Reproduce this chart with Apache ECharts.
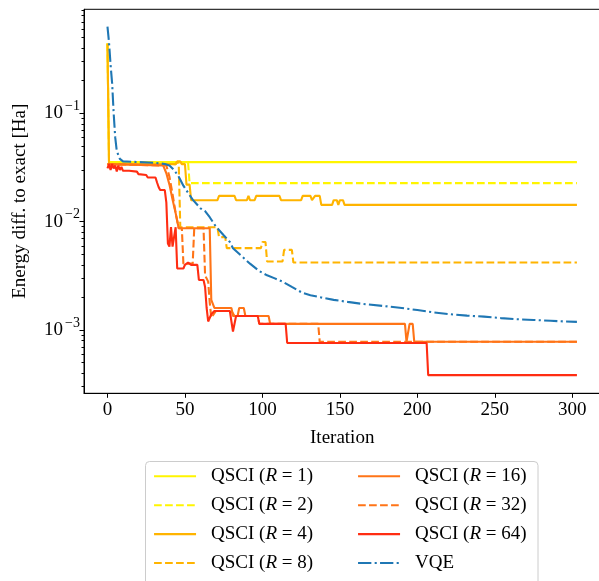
<!DOCTYPE html>
<html><head><meta charset="utf-8">
<script src="https://cdn.jsdelivr.net/npm/echarts@6/dist/echarts.min.js"></script>
<style>html,body{margin:0;padding:0;background:#fff}#c{width:599px;height:581px}</style>
</head><body><div id="c"></div>
<script>
// ---- data (iteration, energy difference [Ha]) ----
const xTicks = [0, 50, 100, 150, 200, 250, 300];
const yMajorTicks = [1e-3, 1e-2, 1e-1];
const xRange = [-15.15, 318.15];
const yRange = [2.61e-4, 0.912];

const names = ['QSCI (R=1)', 'QSCI (R=2)', 'QSCI (R=4)', 'QSCI (R=8)',
               'QSCI (R=16)', 'QSCI (R=32)', 'QSCI (R=64)', 'VQE'];

const qsciR1 = [[0,0.44],[1,0.0355],[303,0.0355]];
const qsciR2 = [[0,0.44],[1,0.0355],[52,0.0355],[53,0.0227],[303,0.0227]];
const qsciR4 = [[0,0.44],[1,0.034],[44,0.034],[45,0.036],[47,0.036],[48,0.034],[50,0.034],[51,0.022],[53,0.022],
  [54,0.0158],[71,0.0158],[72,0.0173],[82,0.0173],[83,0.0158],[90,0.0158],[91,0.0173],[92,0.0158],[95,0.0158],
  [96,0.0173],[111,0.0173],[112,0.0158],[125,0.0158],[126,0.0173],[131,0.0173],[132,0.0158],[133,0.0158],
  [134,0.0173],[137,0.0173],[138,0.0143],[145,0.0143],[146,0.0158],[148,0.0158],[149,0.0143],[150,0.0158],
  [152,0.0158],[153,0.0143],[303,0.0143]];
const qsciR8 = [[0,0.034],[44,0.034],[45,0.036],[46,0.034],[47,0.0089],[71,0.0089],[72,0.0072],[76,0.0072],
  [77,0.0057],[99,0.0057],[100,0.0065],[102,0.0065],[103,0.0043],[113,0.0043],[114,0.0055],[119,0.0055],
  [120,0.0042],[303,0.0042]];
const qsciR16 = [[0,0.034],[36,0.033],[37,0.032],[38,0.028],[40,0.022],[42,0.016],[44,0.012],[46,0.0087],
  [66,0.0087],[67,0.0019],[69,0.0016],[80,0.0016],[81,0.00135],[84,0.00135],[85,0.0016],[88,0.0016],
  [89,0.00135],[104,0.00135],[105,0.00114],[192,0.00114],[193,0.00078],[194,0.00078],[195,0.00114],
  [197,0.00114],[198,0.00078],[303,0.00078]];
const qsciR32 = [[0,0.034],[38,0.033],[40,0.026],[42,0.018],[44,0.012],[46,0.0087],[48,0.0087],[49,0.0041],
  [55,0.0041],[56,0.0087],[62,0.0087],[63,0.0032],[65,0.0028],[66,0.0018],[67,0.0013],[70,0.0015],[80,0.0015],
  [82,0.00135],[97,0.00135],[98,0.00114],[136,0.00114],[137,0.00078],[303,0.00078]];
const qsciR64 = [[0,0.031],[1,0.034],[2,0.030],[3,0.034],[4,0.031],[5,0.033],[6,0.029],[7,0.033],[8,0.030],
  [9,0.032],[10,0.0295],[14,0.0295],[15,0.029],[19,0.029],[20,0.0275],[25,0.027],[26,0.0256],[31,0.0256],
  [32,0.023],[33,0.0209],[34,0.0196],[37,0.0196],[38,0.015],[39,0.0063],[40,0.0059],[41,0.0089],[42,0.0059],
  [43,0.006],[44,0.0089],[45,0.0037],[49,0.0037],[50,0.0040],[52,0.0042],[54,0.0040],[58,0.0040],[59,0.0029],
  [62,0.0029],[63,0.0025],[64,0.0016],[65,0.0012],[66,0.0012],[67,0.0014],[69,0.0015],[79,0.0015],[80,0.0012],
  [81,0.00097],[82,0.00097],[83,0.00135],[97,0.00135],[98,0.00114],[115,0.00114],[116,0.00076],[206,0.00076],
  [207,0.000384],[303,0.000384]];
const vqe = [[0,0.63],[1,0.45],[2,0.28],[3,0.19],[4,0.1],[5,0.06],[6,0.045],[8,0.038],[10,0.036],[20,0.0355],
  [30,0.035],[37,0.0341],[40,0.033],[43,0.030],[46,0.026],[49,0.0215],[52,0.0185],[55,0.016],[60,0.0133],
  [63,0.0125],[66,0.011],[70,0.009],[75,0.0075],[79,0.0065],[81,0.0057],[86,0.0049],[92,0.0041],[98,0.0035],
  [103,0.0032],[108,0.0030],[113,0.0028],[119,0.0025],[126,0.0022],[131,0.0021],[138,0.002],[146,0.0019],
  [155,0.00182],[165,0.00174],[178,0.00167],[190,0.0016],[200,0.00153],[210,0.00146],[221,0.0014],
  [232,0.00136],[243,0.00133],[254,0.00129],[264,0.00126],[275,0.00124],[286,0.00122],[295,0.0012],
  [303,0.00119]];

// ---- styling ----
const FONT = "'Liberation Serif', 'DejaVu Serif', serif";
const YEL = '#fff500', AMB = '#ffb400', ORG = '#ff7417', RED = '#ff2d12', BLUE = '#1f77b4';
const LW = 2.1;
const DASH = [7.7, 3.3];
const DASHDOT = [13.3, 3.3, 2.1, 3.3];
const allData = [qsciR1, qsciR2, qsciR4, qsciR8, qsciR16, qsciR32, qsciR64, vqe];
const colors = [YEL, YEL, AMB, AMB, ORG, ORG, RED, BLUE];
const dashes = ['solid', DASH, 'solid', DASH, 'solid', DASH, 'solid', DASHDOT];

const minorTicks = [];
for (let k = -4; k <= -1; k++) for (let m = 2; m <= 9; m++) {
  const v = m * Math.pow(10, k);
  if (v > yRange[0] && v < yRange[1]) minorTicks.push(Math.log10(v));
}
const lyMin = Math.log10(yRange[0]), lyMax = Math.log10(yRange[1]);

const series = allData.map((d, i) => ({
  name: names[i], type: 'line', data: d, xAxisIndex: 0, yAxisIndex: 0,
  symbol: 'none', showSymbol: false, silent: true,
  lineStyle: { color: colors[i], width: LW, type: dashes[i] },
  itemStyle: { color: colors[i] }
}));

const legendText = {
  fontFamily: FONT, fontSize: 19, lineHeight: 20, color: '#000', padding: [0, 0, 0, 10],
  rich: { i: { fontFamily: FONT, fontSize: 19, lineHeight: 20, fontStyle: 'italic', color: '#000' } }
};
const legendFmt = n => n.replace('R=', '{i|R} = ');
const legendBase = {
  orient: 'vertical', top: 466.3, height: 150, padding: 0,
  itemWidth: 42, itemHeight: 20, itemGap: 8.9,
  textStyle: legendText, formatter: legendFmt, selectedMode: false,
  lineStyle: { width: LW, opacity: 1 },
  itemStyle: { opacity: 0, borderWidth: 0 }
};

const option = {
  animation: false,
  backgroundColor: '#fff',
  grid: { left: 84, top: 9.3, width: 516.4, height: 384, show: true, borderColor: '#000', borderWidth: 1,
          containLabel: false, outerBoundsMode: 'none' },
  xAxis: [{
    type: 'value', min: xRange[0], max: xRange[1], splitLine: { show: false },
    axisLine: { show: true, lineStyle: { color: '#000', width: 1 } },
    axisTick: { show: true, customValues: xTicks, length: 4.5, lineStyle: { color: '#000' } },
    axisLabel: { customValues: xTicks, fontFamily: FONT, fontSize: 19, color: '#000', margin: 7 },
    name: 'Iteration', nameLocation: 'middle', nameGap: 35,
    nameTextStyle: { fontFamily: FONT, fontSize: 19, color: '#000' }
  }],
  yAxis: [{
    type: 'log', min: yRange[0], max: yRange[1], show: false, position: 'left'
  }, {
    type: 'value', position: 'left', min: lyMin, max: lyMax, splitLine: { show: false },
    axisLine: { show: true, lineStyle: { color: '#000', width: 1 } },
    axisTick: { show: true, customValues: yMajorTicks.map(Math.log10), length: 4.5, lineStyle: { color: '#000' } },
    axisLabel: {
      customValues: yMajorTicks.map(Math.log10), margin: 4,
      formatter: v => '{b|10}{s|\u2212' + (-Math.round(v)) + '}',
      rich: {
        b: { fontFamily: FONT, fontSize: 19, lineHeight: 28, color: '#000' },
        s: { fontFamily: FONT, fontSize: 14, lineHeight: 13, verticalAlign: 'top', padding: [0, 0, 0, 2], color: '#000' }
      }
    },
    name: 'Energy diff. to exact [Ha]', nameLocation: 'middle', nameGap: 54,
    nameTextStyle: { fontFamily: FONT, fontSize: 19, color: '#000' }
  }, {
    type: 'value', position: 'left', min: lyMin, max: lyMax, splitLine: { show: false },
    axisLine: { show: false },
    axisTick: { show: true, customValues: minorTicks, length: 2.5, lineStyle: { color: '#000' } },
    axisLabel: { show: false }
  }],
  legend: [
    Object.assign({}, legendBase, { left: 153, data: names.slice(0, 4) }),
    Object.assign({}, legendBase, { left: 357, data: names.slice(4) })
  ],
  graphic: [{
    type: 'rect', z: 1, silent: true,
    shape: { x: 145.5, y: 461.5, width: 392.5, height: 130, r: 4 },
    style: { fill: 'rgba(255,255,255,0.8)', stroke: '#cccccc', lineWidth: 1 }
  }],
  series: series
};

const chart = echarts.init(document.getElementById('c'), null, { renderer: 'canvas' });
chart.setOption(option);
</script>
</body></html>
